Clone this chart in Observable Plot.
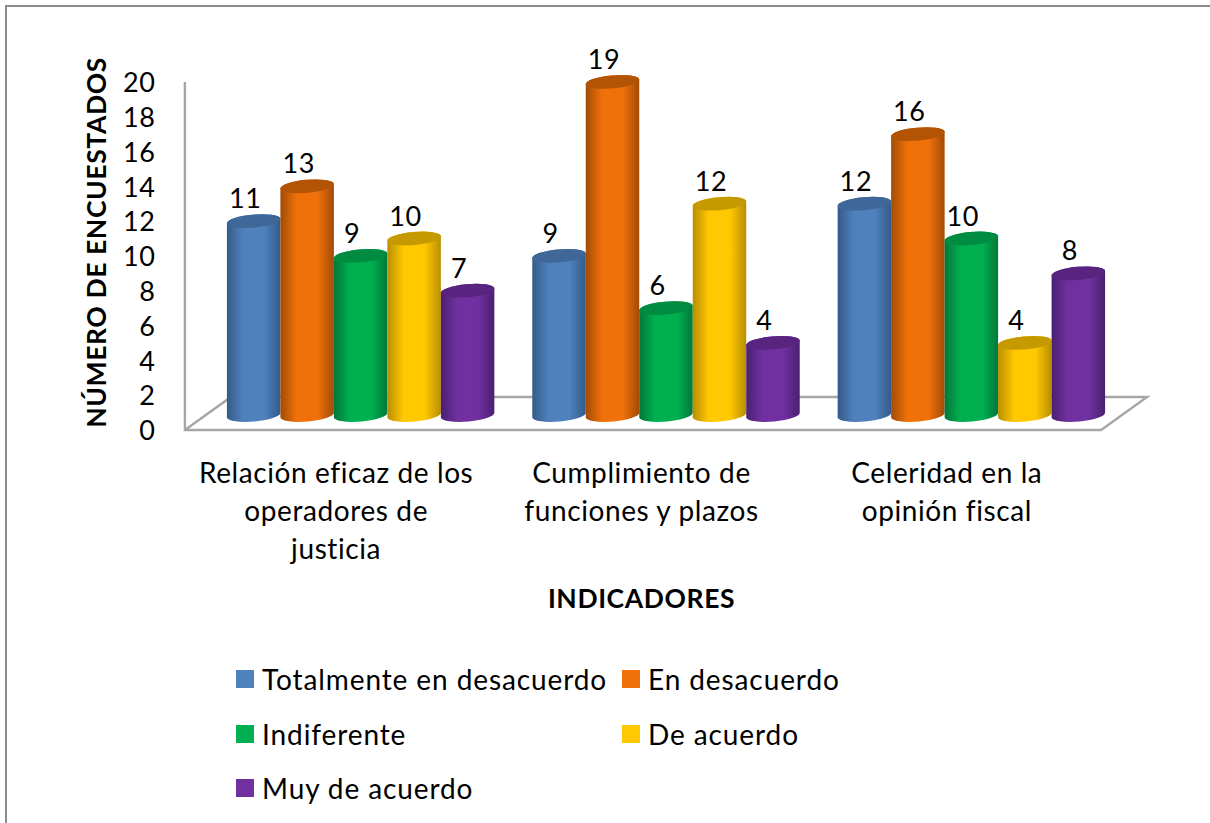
<!DOCTYPE html>
<html lang="es">
<head>
<meta charset="utf-8">
<script src="https://cdn.jsdelivr.net/npm/d3@7"></script>
<script src="https://cdn.jsdelivr.net/npm/@observablehq/plot@0.6"></script>
<style>
html,body{margin:0;padding:0;background:#fff;width:1210px;height:823px;overflow:hidden}
#wrap{position:relative;width:1210px;height:823px;overflow:hidden;font-family:Lato,sans-serif;color:#000;font-variant-ligatures:none}
#edge{position:absolute;left:5px;top:5px;width:1300px;height:900px;border-left:2px solid #8c8c8c;border-top:2px solid #8c8c8c}
#chart{position:absolute;left:0;top:0}
#chart svg text{font-variant-ligatures:none;letter-spacing:0.6px}
#legend{position:absolute;left:236px;top:652px;display:grid;grid-template-columns:386px auto;grid-auto-rows:54.5px;font-size:28px;letter-spacing:0.9px;align-items:center}
#legend div{display:flex;align-items:center}
#legend i{display:inline-block;width:18px;height:18px;margin-right:8px}
</style>
</head>
<body>
<div id="wrap"><div id="edge"></div><div id="chart"></div><div id="legend"></div></div>
<script>
const categories = ["Relación eficaz de los operadores de justicia", "Cumplimiento de funciones y plazos", "Celeridad en la opinión fiscal"];
const categoryLines = ["Relación eficaz de los\noperadores de\njusticia", "Cumplimiento de\nfunciones y plazos", "Celeridad en la\nopinión fiscal"];
const seriesNames = ["Totalmente en desacuerdo", "En desacuerdo", "Indiferente", "De acuerdo", "Muy de acuerdo"];
const totalmente = [11, 9, 12];
const enDesacuerdo = [13, 19, 16];
const indiferente = [9, 6, 10];
const deAcuerdo = [10, 12, 4];
const muyDeAcuerdo = [7, 4, 8];
const seriesValues = [totalmente, enDesacuerdo, indiferente, deAcuerdo, muyDeAcuerdo];
const yTicks = [0, 2, 4, 6, 8, 10, 12, 14, 16, 18, 20];
const baseColors = ["#4f81bd", "#f0700a", "#00b050", "#ffc800", "#7030a0"];
const edgeColors = ["#345a88", "#a04c06", "#00773a", "#b88e00", "#4a2070"];
const topColors = ["#3f6798", "#b35405", "#008c40", "#c59a00", "#582480"];

const rows = [];
seriesNames.forEach((s, i) => categories.forEach((c, j) => rows.push({category: c, series: s, value: seriesValues[i][j], idx: i})));

const lift = -17.5;   // the 3-D floor raises the bars above the axis origin
const font = "Lato, sans-serif";
const fs = 27;

function cylinders(index, scales, values, dims, ctx, next) {
  const g = next(index, scales, values, dims, ctx);
  d3.select(g).selectAll("rect").each(function () {
    const r = d3.select(this);
    const x = +r.attr("x"), w = +r.attr("width"), t = +r.attr("y"), b = t + +r.attr("height") + 2.5;
    const fill = r.attr("fill");
    const k = +fill.match(/g(\d)/)[1];
    const rx = w / 2, ry = 6.5, tilt = 2.5, rot = -5;
    const parent = d3.select(this.parentNode);
    parent.insert("path", () => this)
      .attr("fill", fill)
      .attr("d", `M${x},${t + tilt}L${x},${b + tilt}A${rx},${ry} ${rot} 0 0 ${x + w},${b - tilt}L${x + w},${t - tilt}A${rx},${ry} ${rot} 0 0 ${x},${t + tilt}Z`);
    parent.insert("path", () => this)
      .attr("fill", topColors[k])
      .attr("d", `M${x},${t + tilt}A${rx},${ry} ${rot} 0 1 ${x + w},${t - tilt}A${rx},${ry} ${rot} 0 1 ${x},${t + tilt}Z`);
    r.remove();
  });
  return g;
}

function floorAndWall(index, scales, values, dims) {
  // dimensions here are those of the facet bands; the floor extends past them by the outer padding
  const inset = 42;
  const y0 = scales.y(0), yTop = scales.y(20), l = dims.marginLeft - inset, rEdge = dims.width - dims.marginRight + inset;
  const depthX = 46, depthY = 33;
  const g = d3.create("svg:g").attr("fill", "none").attr("stroke", "#a6a6a6").attr("stroke-width", 2.4);
  g.append("path").attr("d", `M${l},${yTop}V${y0}H${rEdge - depthX}L${rEdge},${y0 - depthY}H${l + depthX}L${l},${y0}`);
  return g.node();
}

const chart = Plot.plot({
  width: 1210,
  height: 640,
  marginLeft: 185,
  marginRight: 63,
  marginTop: 82,
  marginBottom: 210,
  style: {fontFamily: font, fontSize: fs + "px", background: "transparent", overflow: "visible", color: "#000"},
  fx: {domain: categories, paddingInner: 38 / 306, paddingOuter: 42 / 306, round: false, axis: null},
  x: {domain: seriesNames, padding: 0, round: false, axis: null},
  y: {domain: [0, 20], range: [430, 82], axis: null},
  marks: [
    Plot.text(["floor"], {facet: "super", frameAnchor: "left", render: floorAndWall}),
    Plot.axisY({ticks: yTicks, tickSize: 0, tickPadding: 72, label: null, fontSize: fs, dy: 1, stroke: "none"}),
    Plot.barY(rows, {
      fx: "category", x: "series", y: "value",
      fill: d => `url(#g${d.idx})`,
      dy: lift,
      render: cylinders
    }),
    Plot.text(rows, {
      fx: "category", x: "series", y: "value", text: d => String(d.value),
      dx: -9, dy: lift - 22, fontSize: fs, fill: "#000"
    }),
    Plot.text(categories, {
      fx: d => d,
      text: (d, i) => categoryLines[i],
      frameAnchor: "bottom", lineAnchor: "top", lineHeight: 38 / 28,
      dx: -25, dy: 26, fontSize: 28, fill: "#000"
    }),
    Plot.text(["INDICADORES"], {facet: "super", frameAnchor: "bottom", lineAnchor: "middle", dx: -25, dy: 169, fontWeight: "bold", fontSize: 26.5, fill: "#000"}),
    Plot.text(["NÚMERO DE ENCUESTADOS"], {facet: "super", frameAnchor: "left", textAnchor: "middle", rotate: -90, dx: -130, dy: -14, fontWeight: "bold", fontSize: 26.5, fill: "#000"})
  ]
});

const defs = d3.select(chart).insert("defs", ":first-child");
baseColors.forEach((c, i) => {
  const lg = defs.append("linearGradient").attr("id", "g" + i).attr("x1", 0).attr("x2", 1).attr("y1", 0).attr("y2", 0);
  [[0, edgeColors[i]], [0.3, c], [0.7, c], [1, edgeColors[i]]].forEach(([o, col]) => lg.append("stop").attr("offset", o).attr("stop-color", col));
});
document.getElementById("chart").append(chart);

const legend = d3.select("#legend");
seriesNames.forEach((s, i) => {
  const item = legend.append("div");
  item.append("i").style("background", baseColors[i]);
  item.append("span").text(s);
});
</script>
</body>
</html>
